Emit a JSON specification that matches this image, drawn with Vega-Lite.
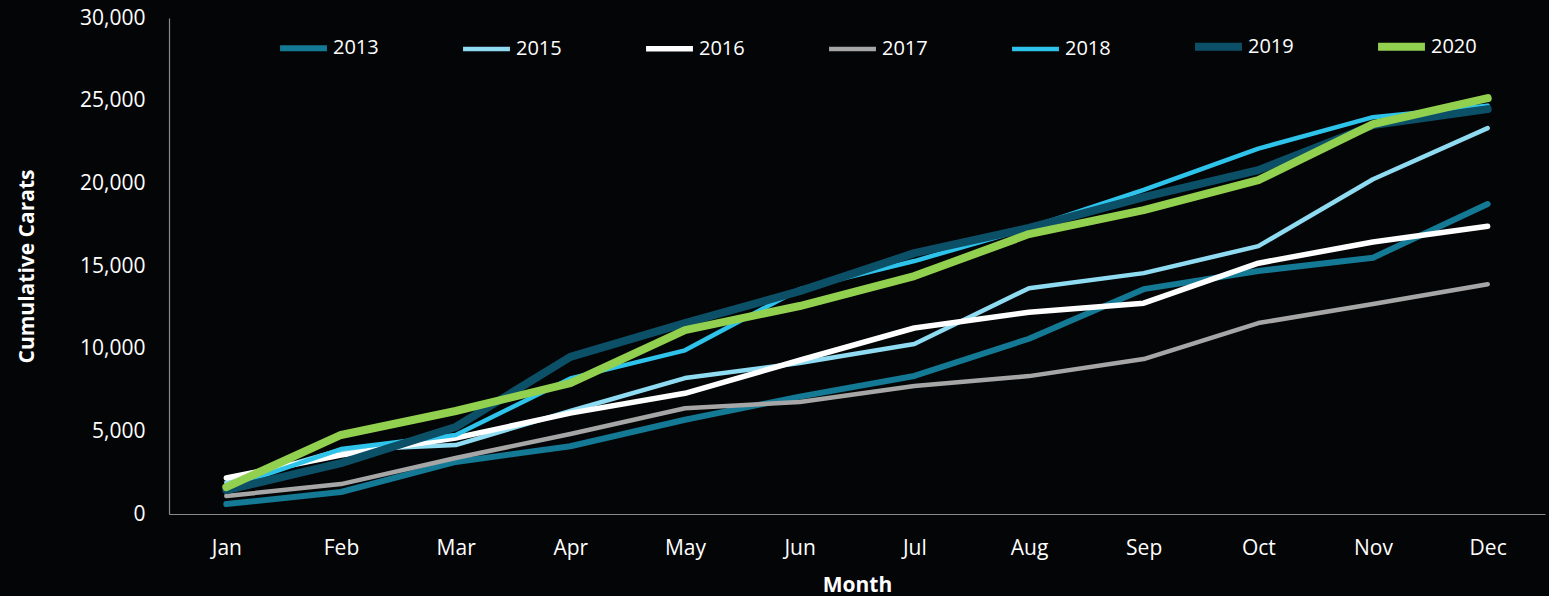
{
  "$schema": "https://vega.github.io/schema/vega-lite/v6.json",
  "width": 1376,
  "height": 496,
  "autosize": {"type": "none"},
  "padding": {"left": 169, "top": 18, "right": 4, "bottom": 82},
  "background": "#040506",
  "config": {
    "view": {"stroke": null},
    "font": "Open Sans"
  },
  "data": {
    "values": [
      {"Month": "Jan", "Year": "2013", "Carats": 600},
      {"Month": "Feb", "Year": "2013", "Carats": 1330},
      {"Month": "Mar", "Year": "2013", "Carats": 3150},
      {"Month": "Apr", "Year": "2013", "Carats": 4100},
      {"Month": "May", "Year": "2013", "Carats": 5700},
      {"Month": "Jun", "Year": "2013", "Carats": 7100},
      {"Month": "Jul", "Year": "2013", "Carats": 8350},
      {"Month": "Aug", "Year": "2013", "Carats": 10600},
      {"Month": "Sep", "Year": "2013", "Carats": 13600},
      {"Month": "Oct", "Year": "2013", "Carats": 14700},
      {"Month": "Nov", "Year": "2013", "Carats": 15500},
      {"Month": "Dec", "Year": "2013", "Carats": 18750},
      {"Month": "Jan", "Year": "2015", "Carats": 1900},
      {"Month": "Feb", "Year": "2015", "Carats": 3870},
      {"Month": "Mar", "Year": "2015", "Carats": 4170},
      {"Month": "Apr", "Year": "2015", "Carats": 6230},
      {"Month": "May", "Year": "2015", "Carats": 8220},
      {"Month": "Jun", "Year": "2015", "Carats": 9130},
      {"Month": "Jul", "Year": "2015", "Carats": 10280},
      {"Month": "Aug", "Year": "2015", "Carats": 13660},
      {"Month": "Sep", "Year": "2015", "Carats": 14570},
      {"Month": "Oct", "Year": "2015", "Carats": 16200},
      {"Month": "Nov", "Year": "2015", "Carats": 20250},
      {"Month": "Dec", "Year": "2015", "Carats": 23340},
      {"Month": "Jan", "Year": "2016", "Carats": 2180},
      {"Month": "Feb", "Year": "2016", "Carats": 3570},
      {"Month": "Mar", "Year": "2016", "Carats": 4600},
      {"Month": "Apr", "Year": "2016", "Carats": 6100},
      {"Month": "May", "Year": "2016", "Carats": 7300},
      {"Month": "Jun", "Year": "2016", "Carats": 9300},
      {"Month": "Jul", "Year": "2016", "Carats": 11250},
      {"Month": "Aug", "Year": "2016", "Carats": 12200},
      {"Month": "Sep", "Year": "2016", "Carats": 12750},
      {"Month": "Oct", "Year": "2016", "Carats": 15170},
      {"Month": "Nov", "Year": "2016", "Carats": 16450},
      {"Month": "Dec", "Year": "2016", "Carats": 17400},
      {"Month": "Jan", "Year": "2017", "Carats": 1090},
      {"Month": "Feb", "Year": "2017", "Carats": 1810},
      {"Month": "Mar", "Year": "2017", "Carats": 3390},
      {"Month": "Apr", "Year": "2017", "Carats": 4840},
      {"Month": "May", "Year": "2017", "Carats": 6400},
      {"Month": "Jun", "Year": "2017", "Carats": 6770},
      {"Month": "Jul", "Year": "2017", "Carats": 7740},
      {"Month": "Aug", "Year": "2017", "Carats": 8340},
      {"Month": "Sep", "Year": "2017", "Carats": 9370},
      {"Month": "Oct", "Year": "2017", "Carats": 11550},
      {"Month": "Nov", "Year": "2017", "Carats": 12700},
      {"Month": "Dec", "Year": "2017", "Carats": 13900},
      {"Month": "Jan", "Year": "2018", "Carats": 1570},
      {"Month": "Feb", "Year": "2018", "Carats": 3930},
      {"Month": "Mar", "Year": "2018", "Carats": 4780},
      {"Month": "Apr", "Year": "2018", "Carats": 8200},
      {"Month": "May", "Year": "2018", "Carats": 9900},
      {"Month": "Jun", "Year": "2018", "Carats": 13600},
      {"Month": "Jul", "Year": "2018", "Carats": 15300},
      {"Month": "Aug", "Year": "2018", "Carats": 17300},
      {"Month": "Sep", "Year": "2018", "Carats": 19600},
      {"Month": "Oct", "Year": "2018", "Carats": 22100},
      {"Month": "Nov", "Year": "2018", "Carats": 24000},
      {"Month": "Dec", "Year": "2018", "Carats": 24700},
      {"Month": "Jan", "Year": "2019", "Carats": 1450},
      {"Month": "Feb", "Year": "2019", "Carats": 3080},
      {"Month": "Mar", "Year": "2019", "Carats": 5260},
      {"Month": "Apr", "Year": "2019", "Carats": 9500},
      {"Month": "May", "Year": "2019", "Carats": 11550},
      {"Month": "Jun", "Year": "2019", "Carats": 13480},
      {"Month": "Jul", "Year": "2019", "Carats": 15780},
      {"Month": "Aug", "Year": "2019", "Carats": 17300},
      {"Month": "Sep", "Year": "2019", "Carats": 19170},
      {"Month": "Oct", "Year": "2019", "Carats": 20800},
      {"Month": "Nov", "Year": "2019", "Carats": 23520},
      {"Month": "Dec", "Year": "2019", "Carats": 24490},
      {"Month": "Jan", "Year": "2020", "Carats": 1630},
      {"Month": "Feb", "Year": "2020", "Carats": 4780},
      {"Month": "Mar", "Year": "2020", "Carats": 6230},
      {"Month": "Apr", "Year": "2020", "Carats": 7920},
      {"Month": "May", "Year": "2020", "Carats": 11120},
      {"Month": "Jun", "Year": "2020", "Carats": 12580},
      {"Month": "Jul", "Year": "2020", "Carats": 14390},
      {"Month": "Aug", "Year": "2020", "Carats": 16930},
      {"Month": "Sep", "Year": "2020", "Carats": 18380},
      {"Month": "Oct", "Year": "2020", "Carats": 20190},
      {"Month": "Nov", "Year": "2020", "Carats": 23580},
      {"Month": "Dec", "Year": "2020", "Carats": 25150}
    ]
  },
  "mark": {"type": "line", "strokeCap": "round", "strokeJoin": "round"},
  "encoding": {
    "x": {
      "field": "Month",
      "type": "ordinal",
      "sort": ["Jan", "Feb", "Mar", "Apr", "May", "Jun", "Jul", "Aug", "Sep", "Oct", "Nov", "Dec"],
      "scale": {"type": "point", "padding": 0.5},
      "axis": {
        "title": "Month",
        "titleColor": "#ffffff",
        "titleFontSize": 21,
        "titleFontWeight": "bold",
        "titlePadding": 16,
        "labelColor": "#ffffff",
        "labelFontSize": 21,
        "labelPadding": 23,
        "labelAngle": 0,
        "ticks": false,
        "grid": false,
        "domainColor": "#8a8a8a",
        "domainWidth": 1.2
      }
    },
    "y": {
      "field": "Carats",
      "type": "quantitative",
      "scale": {"domain": [0, 30000], "nice": false},
      "axis": {
        "title": "Cumulative Carats",
        "titleColor": "#ffffff",
        "titleFontSize": 21,
        "titleFontWeight": "bold",
        "titleX": -132,
        "titleY": 248,
        "labelColor": "#ffffff",
        "labelFontSize": 21,
        "labelPadding": 24,
        "values": [0, 5000, 10000, 15000, 20000, 25000, 30000],
        "format": ",.0f",
        "ticks": false,
        "grid": false,
        "domainColor": "#8a8a8a",
        "domainWidth": 1.2
      }
    },
    "color": {
      "field": "Year",
      "type": "nominal",
      "scale": {
        "domain": ["2013", "2015", "2016", "2017", "2018", "2019", "2020"],
        "range": ["#137994", "#8fdcf2", "#ffffff", "#a6a6a6", "#2ec3ea", "#0c5068", "#92d050"]
      },
      "legend": {
        "title": null,
        "orient": "none",
        "legendX": 107,
        "legendY": 1,
        "direction": "horizontal",
        "columns": 7,
        "gridAlign": "all",
        "columnPadding": 68,
        "symbolType": "stroke",
        "symbolSize": 2200,
        "symbolStrokeWidth": 5,
        "labelColor": "#ffffff",
        "labelFontSize": 20,
        "labelOffset": 2
      }
    },
    "strokeWidth": {
      "field": "Year",
      "type": "ordinal",
      "scale": {
        "type": "ordinal",
        "domain": ["2013", "2015", "2016", "2017", "2018", "2019", "2020"],
        "range": [6, 4.5, 5.5, 4.5, 4.5, 8, 8]
      },
      "legend": null
    }
  }
}
